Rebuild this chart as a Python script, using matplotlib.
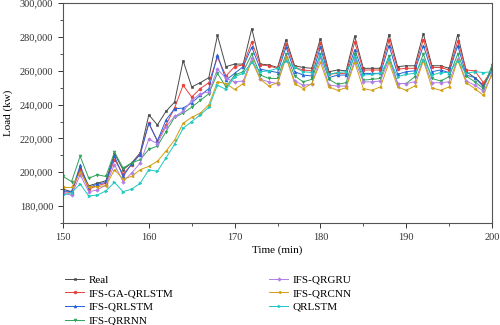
import matplotlib
matplotlib.use("Agg")
import matplotlib.pyplot as plt
from matplotlib.ticker import FuncFormatter, MultipleLocator

time = list(range(150, 201))

real = [190000, 188500, 202500, 192000, 193500, 195000, 211000, 201500, 205500, 211500,
        234000, 228000, 236000, 241500, 266000, 250500, 253000, 256000, 281000, 262500,
        264000, 264000, 285000, 264000, 263500, 262000, 278500, 263000, 262000, 261500,
        279000, 259500, 260500, 260000, 280500, 261500, 261500, 261500, 281500, 262500,
        263000, 263000, 282000, 263000, 263000, 261500, 281500, 259500, 256000, 251500,
        261500]
ga_qrlstm = [188500, 188000, 201500, 190000, 192000, 193500, 207500, 199000, 204500, 211000,
             229000, 218500, 228000, 238000, 251500, 244500, 249500, 253000, 268000, 257000,
             262500, 263500, 277000, 263500, 263000, 261500, 276000, 262000, 260500, 260000,
             276500, 258000, 258500, 258500, 277000, 260500, 260500, 260500, 278000, 261000,
             261500, 261500, 278500, 262000, 262000, 260500, 277500, 260500, 260000, 253000,
             260500]
qrlstm_ifs = [189000, 188500, 204000, 191000, 193000, 194000, 209500, 197500, 205000, 210500,
              229000, 218500, 231000, 237500, 238000, 241000, 245500, 249500, 269500, 254500,
              258500, 262500, 274000, 261000, 260000, 259000, 274000, 259500, 257500, 257000,
              274000, 256000, 257500, 257500, 272500, 258500, 258500, 258500, 275000, 258000,
              259500, 260000, 275000, 259500, 260500, 259000, 275000, 257500, 256000, 250500,
              260500]
qrrnn = [197500, 194500, 209500, 196500, 198500, 197500, 212000, 202500, 205500, 207500,
         213500, 215500, 224000, 232500, 235000, 238500, 242500, 246500, 258500, 250500,
         257500, 259500, 270000, 257500, 255500, 255500, 270000, 257000, 253500, 255000,
         270000, 255000, 252000, 253000, 270000, 254500, 255000, 255500, 269000, 252500,
         252500, 256500, 270000, 255500, 254000, 256500, 270000, 257000, 253500, 249500,
         263500]
qrgru = [187500, 186500, 198500, 188500, 189500, 192500, 204500, 194500, 199500, 205500,
         219500, 217000, 227000, 233000, 236000, 242500, 246500, 247500, 261000, 255500,
         253500, 254000, 267500, 255000, 253500, 252500, 268000, 254000, 251500, 252000,
         268000, 251500, 251000, 251000, 266500, 253500, 253500, 254000, 267000, 252500,
         252500, 253500, 266500, 253000, 253000, 253500, 267000, 254000, 251500, 248000,
         257500]
qrcnn = [191000, 191000, 200000, 191500, 191500, 192000, 201500, 196000, 197500, 201500,
         203500, 206500, 212500, 219000, 229000, 232500, 235000, 240000, 253500, 252500,
         249000, 252500, 266000, 255000, 251000, 253000, 268000, 252500, 249500, 252500,
         265000, 250500, 248500, 250000, 265000, 249500, 248500, 250500, 265000, 250500,
         248500, 251000, 266000, 250000, 248500, 250500, 266500, 253000, 249500, 245500,
         258500]
qrlstm = [186500, 188000, 193000, 186000, 186500, 189000, 194000, 188500, 190000, 193500,
          201500, 200500, 208500, 216500, 226000, 230000, 234000, 238500, 251500, 249000,
          256500, 258500, 265000, 259500, 260000, 261500, 266000, 262000, 259500, 259000,
          268500, 258000, 259000, 259500, 268000, 257500, 258000, 258500, 267000, 256500,
          258000, 258500, 266500, 257500, 259000, 259000, 266000, 258500, 259500, 259000,
          259500]

series = [
    ("Real", real, "#4a4a4a", "s"),
    ("IFS-GA-QRLSTM", ga_qrlstm, "#e8403c", "o"),
    ("IFS-QRLSTM", qrlstm_ifs, "#2563d9", "^"),
    ("IFS-QRRNN", qrrnn, "#2ea35a", "v"),
    ("IFS-QRGRU", qrgru, "#b27de6", "D"),
    ("IFS-QRCNN", qrcnn, "#d19f12", "<"),
    ("QRLSTM", qrlstm, "#1ec8c2", ">"),
]

plt.rcParams['font.family'] = ['Liberation Serif', 'DejaVu Serif']

fig = plt.figure(figsize=(5, 3.25), dpi=100)
ax = fig.add_axes([0.126, 0.314, 0.858, 0.676])

for name, vals, color, mk in series:
    ms = 1.8 if mk == "D" else 2.1
    ax.plot(time, vals, color=color, marker=mk, markersize=ms, linewidth=0.7,
            markeredgewidth=0.4, label=name)

ax.set_xlim(150, 200)
ax.set_ylim(170000, 300000)
ax.xaxis.set_major_locator(MultipleLocator(10))
ax.xaxis.set_minor_locator(MultipleLocator(5))
ax.yaxis.set_major_locator(MultipleLocator(20000))
ax.yaxis.set_minor_locator(MultipleLocator(10000))
ax.yaxis.set_major_formatter(FuncFormatter(lambda v, p: f"{int(v):,}"))
ax.tick_params(which='both', direction='out', labelsize=7.5, colors='#333333')
ax.tick_params(which='major', length=3.5, width=0.7)
ax.tick_params(which='minor', length=2, width=0.6)
for sp in ax.spines.values():
    sp.set_color('#555555')
    sp.set_linewidth(0.8)

ax.set_xlabel("Time (min)", fontsize=8, labelpad=3)
ax.set_ylabel("Load (kw)", fontsize=8, labelpad=5)

fig.legend(loc='upper left', bbox_to_anchor=(0.122, 0.168), ncol=2,
           frameon=False, fontsize=8, handlelength=1.7, columnspacing=8.6,
           labelspacing=0.35, handletextpad=0.4, borderaxespad=0)

fig.savefig("out.png", dpi=100)
